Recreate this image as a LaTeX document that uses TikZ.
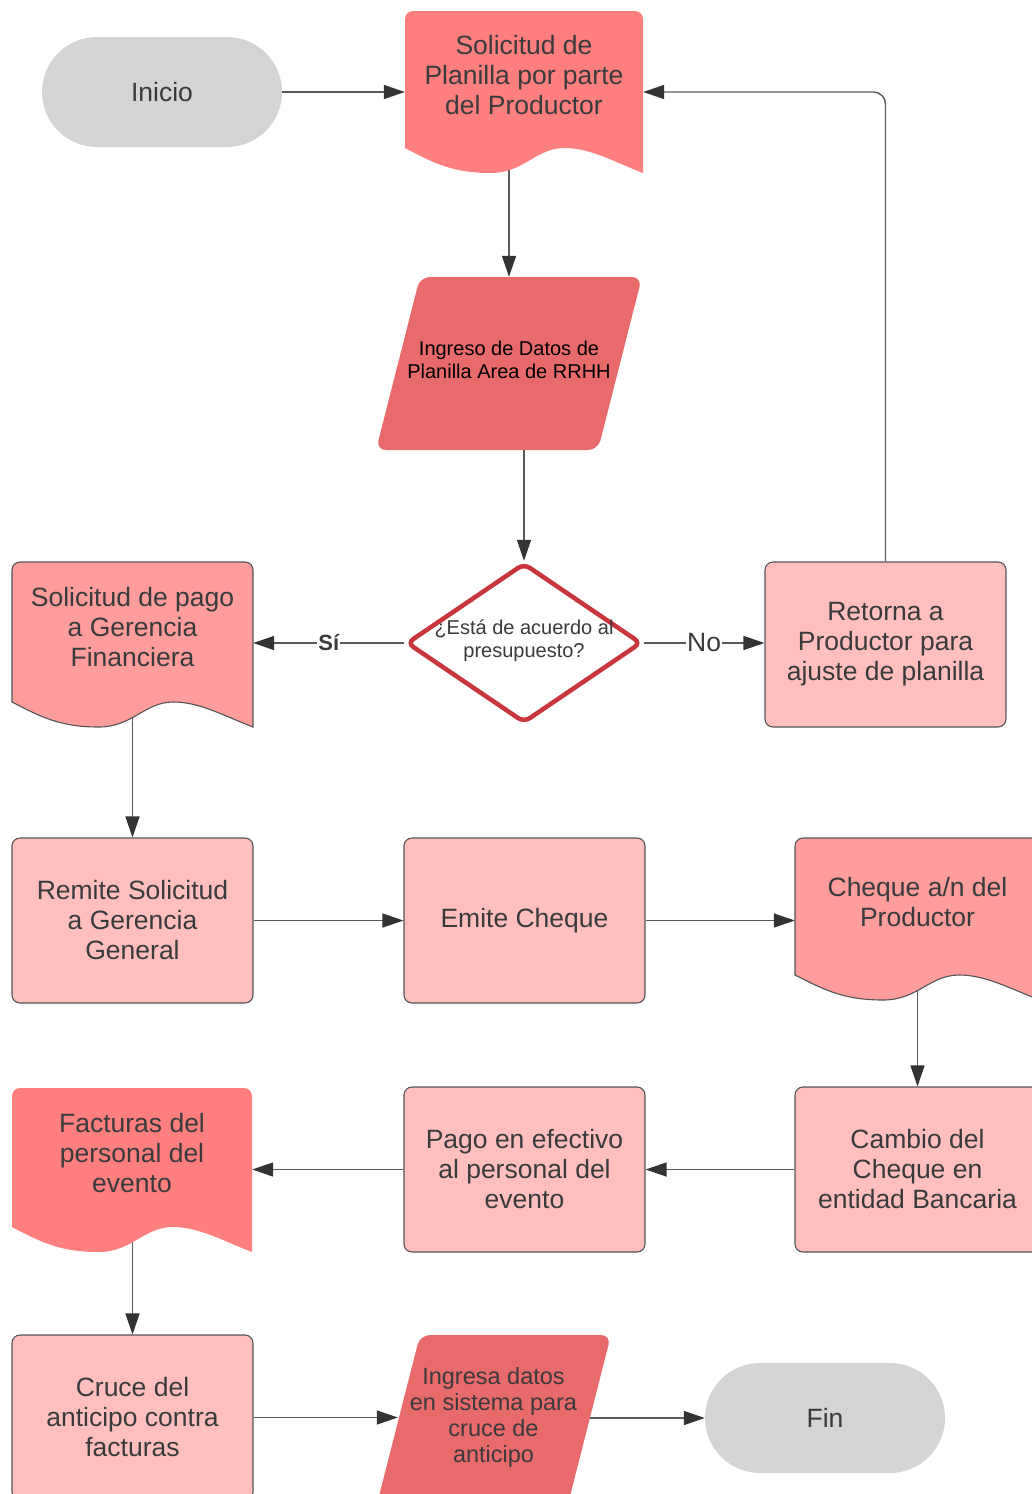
\documentclass[tikz,border=0pt]{standalone}
\usepackage{xcolor}
\usepackage{fontspec}
\setmainfont{Liberation Sans}
\usepackage{tikz}
\usetikzlibrary{calc}
\usetikzlibrary{arrows.meta}
\usetikzlibrary{shapes.geometric}

\definecolor{txt}{HTML}{3A3A3A}
\definecolor{linegray}{HTML}{5A5A5A}
\definecolor{tipdark}{HTML}{333333}
\definecolor{boxedge}{HTML}{555555}
\definecolor{boxpink}{HTML}{FFBFBF}
\definecolor{docsal}{HTML}{FF7F7F}
\definecolor{docpink}{HTML}{FF9C9C}
\definecolor{iored}{HTML}{E96A6A}
\definecolor{decred}{HTML}{C8353A}
\definecolor{termgray}{HTML}{D3D4D6}

\newcommand{\bigtxt}{\fontsize{26.5}{30}\selectfont}
\newcommand{\smalltxt}{\fontsize{20}{23}\selectfont}

\pgfdeclarelayer{back}
\pgfsetlayers{back,main}

\tikzset{
  box/.style={rectangle, rounded corners=8pt, draw=boxedge, line width=1.1pt, fill=boxpink,
    minimum width=241pt, minimum height=165pt, inner sep=0pt, align=center, text=txt, font=\bigtxt},
  term/.style={rectangle, rounded corners=55pt, fill=termgray, minimum width=240pt,
    minimum height=110pt, inner sep=0pt, text=txt, font=\bigtxt},
  decision/.style={diamond, draw=decred, line width=4.5pt, fill=white, rounded corners=7pt,
    minimum width=235pt, minimum height=160pt, inner sep=0pt},
  docbox/.style={rectangle, inner sep=0pt},
  doctext/.style={align=center, text=txt, font=\bigtxt, inner sep=0pt},
  flow/.style={draw=linegray, line width=1.4pt, -{Triangle[length=21pt,width=14pt,color=tipdark]}},
  lab/.style={fill=white, inner sep=1pt, text=txt}
}

% document shape: name, x, y, width, height, fill, text
\newcommand{\docshape}[7]{%
  \begin{scope}[shift={({#2-#4/2},{#3-#5/2})}]
    \path[#6] (0,{#5-25}) [rounded corners=8pt] -- (0,0) -- (#4,0) [sharp corners] -- (#4,#5)
      .. controls ({0.88*#4},{#5-11}) and ({0.78*#4},{#5-25}) .. ({0.67*#4},{#5-25})
      .. controls ({0.55*#4},{#5-25}) and ({0.5*#4},#5) .. ({0.36*#4},#5)
      .. controls ({0.2*#4},#5) and ({0.12*#4},{#5-10}) .. (0,{#5-25}) -- cycle;
  \end{scope}
  \node[docbox, minimum width=#4pt, minimum height=#5pt] (#1) at (#2,#3) {};
  \node[doctext] (#1-t) at (#2,#3-17) {#7};
}

% data shape: name, x, y, top width, text style, text
\newcommand{\ioshape}[6]{%
  \path[fill=iored, rounded corners=10pt] ({#2-#4/2+22},{#3-86.5}) -- ({#2+#4/2+22},{#3-86.5})
    -- ({#2+#4/2-22},{#3+86.5}) -- ({#2-#4/2-22},{#3+86.5}) -- cycle;
  \node[docbox, minimum width=#4pt, minimum height=173pt] (#1) at (#2,#3) {};
  \node[align=center, inner sep=0pt, #5] (#1-t) at (#2,#3-4) {#6};
}

\begin{document}
\begin{tikzpicture}[x=1pt,y=-1pt]
\clip (0,0) rectangle (1032,1494);

\node[term] (ini) at (162,92) {Inicio};
\docshape{sol}{524}{92}{238}{162}{fill=docsal}{Solicitud de\\Planilla por parte\\del Productor}
\ioshape{ing}{509}{363.5}{222}{font=\smalltxt, text=black}{Ingreso de Datos de\\Planilla Area de RRHH}

\node[decision] (dec) at (524,643) {};
\node[align=center, text=txt, font=\smalltxt, inner sep=0pt] (dec-t) at (524,641) {¿Está de acuerdo al\\presupuesto?};
\docshape{sdp}{132.5}{644.5}{241}{165}{fill=docpink, draw=boxedge, line width=1.1pt}{Solicitud de pago\\a Gerencia\\Financiera}
\node[box] (ret) at (885.5,644.5) {Retorna a\\Productor para\\ajuste de planilla};

\node[box] (rem) at (132.5,920.5) {Remite Solicitud\\a Gerencia\\General};
\node[box] (emi) at (524.5,920.5) {Emite Cheque};
\docshape{che}{917.5}{919}{245}{162}{fill=docpink, draw=boxedge, line width=1.1pt}{Cheque a/n del\\Productor}

\node[box, minimum width=245pt] (cam) at (917.5,1169.5) {Cambio del\\Cheque en\\entidad Bancaria};
\node[box] (pag) at (524.5,1169.5) {Pago en efectivo\\al personal del\\evento};
\docshape{fac}{132}{1170}{240}{164}{fill=docsal}{Facturas del\\personal del\\evento}

\node[box] (cru) at (132.5,1417.5) {Cruce del\\anticipo contra\\facturas};
\ioshape{ind}{493.5}{1421.5}{191}{font=\fontsize{23.5}{26}\selectfont, text=txt}{Ingresa datos\\en sistema para\\cruce de\\anticipo}
\node[term] (fin) at (825,1418) {Fin};

\begin{pgfonlayer}{back}
\draw[flow] (ini) -- (sol);
\draw[flow] (ing.north |- sol.center) -- (ing.north);
\draw[flow] (ing.south -| dec.north) -- (dec.north);
\draw[flow] (dec.west) -- (dec.west -| sdp.east) node[lab, pos=.5, font=\fontsize{22}{24}\selectfont\bfseries] (si) {Sí};
\draw[flow] (dec.east) -- (dec.east -| ret.west) node[lab, pos=.5, font=\bigtxt] (no) {No};
\draw[flow, rounded corners=12pt] (ret.north) |- (sol.east);
\draw[flow] (sdp.center) -- (rem.north);
\draw[flow] (rem) -- (emi);
\draw[flow] (emi.east) -- (emi.east -| che.west);
\draw[flow] (che.center) -- (cam.north);
\draw[flow] (cam.west) -- (cam.west -| pag.east);
\draw[flow] (pag.west) -- (pag.west -| fac.east);
\draw[flow] (cru.north |- fac.center) -- (cru.north);
\draw[flow] (cru.east) -- (cru.east -| ind.west);
\draw[flow] (ind.east |- fin.west) -- (fin.west);
\end{pgfonlayer}
\end{tikzpicture}
\end{document}
